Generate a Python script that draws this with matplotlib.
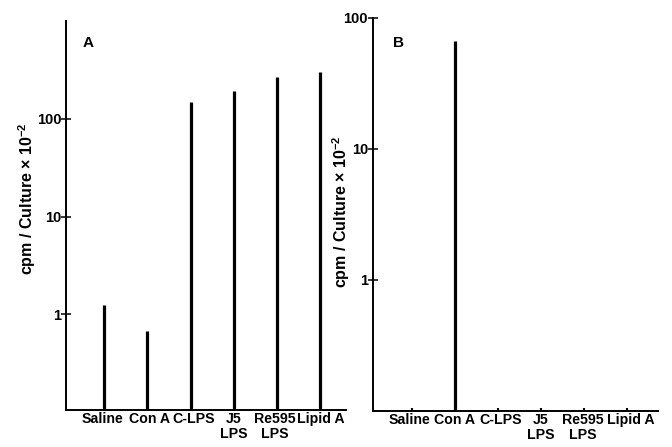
import numpy as np
import matplotlib
matplotlib.use("Agg")
import matplotlib.pyplot as plt
from matplotlib.transforms import ScaledTranslation

plt.rcParams['font.family'] = ['Liberation Sans', 'DejaVu Sans']
plt.rcParams['font.weight'] = 'bold'
plt.rcParams['mathtext.default'] = 'regular'

labels = ["Saline", "Con A", "C-LPS", "J5\nLPS", "Re595\nLPS", "Lipid A"]
panel_a = [1.26, 0.67, 147, 193, 268, 300]
panel_b = [0, 66.7, 0, 0, 0, 0]

ylabel = "cpm / Culture \u00d7 10$^{-2}$"

fig = plt.figure(figsize=(6.72, 4.47), dpi=100)
axA = fig.add_axes([0.0982, 0.0828, 0.417, 0.870])
axB = fig.add_axes([0.555, 0.0805, 0.424, 0.880])

x = np.arange(len(labels))


def style(ax, ylim, xlim, tick_len, nudge):
    ax.set_yscale('log')
    ax.set_ylim(*ylim)
    ax.set_xlim(*xlim)
    for s in ['top', 'right']:
        ax.spines[s].set_visible(False)
    for s in ['left', 'bottom']:
        ax.spines[s].set_linewidth(1.4)
    ax.set_yticks([1, 10, 100])
    ax.set_yticklabels(['1', '10', '100'])
    ax.yaxis.set_minor_locator(matplotlib.ticker.NullLocator())
    ax.tick_params(axis='y', direction='inout', length=7, width=1.1,
                   labelsize=10.5, pad=0)
    ax.set_xticks(x)
    ax.set_xticklabels(labels, fontsize=10.2, linespacing=1.1)
    ax.tick_params(axis='x', direction='in', length=tick_len, width=1.5,
                   pad=1.5)
    # labels in the original are set a little unevenly
    for lab, dx in zip(ax.get_xticklabels(), nudge):
        lab.set_transform(lab.get_transform() +
                          ScaledTranslation(dx / 100, 0, fig.dpi_scale_trans))


# panel A
style(axA, (0.105, 1000), (-0.895, 5.62), 0, [-2, 2, 3, 0, -2, 1.5])
axA.vlines(x, 0.105, panel_a, colors='black', linewidth=2.3)
axA.text(0.079, 0.943, "A", transform=axA.transAxes, fontsize=11,
         fontweight='bold', ha='center', va='center')
fig.text(27 / 672, 1 - 199 / 447, ylabel, rotation=90, fontsize=11.5,
         ha='center', va='center')

# panel B
style(axB, (0.1, 100), (-0.907, 5.72), 2, [-3, 0, 3, 0, -1, 4])
axB.vlines(x, 0.1, np.maximum(panel_b, 0.1), colors='black', linewidth=2.3)
axB.text(0.088, 0.936, "B", transform=axB.transAxes, fontsize=11,
         fontweight='bold', ha='center', va='center')
fig.text(341 / 672, 1 - 212 / 447, ylabel, rotation=90, fontsize=11.5,
         ha='center', va='center')

fig.savefig("out.png", dpi=100)
